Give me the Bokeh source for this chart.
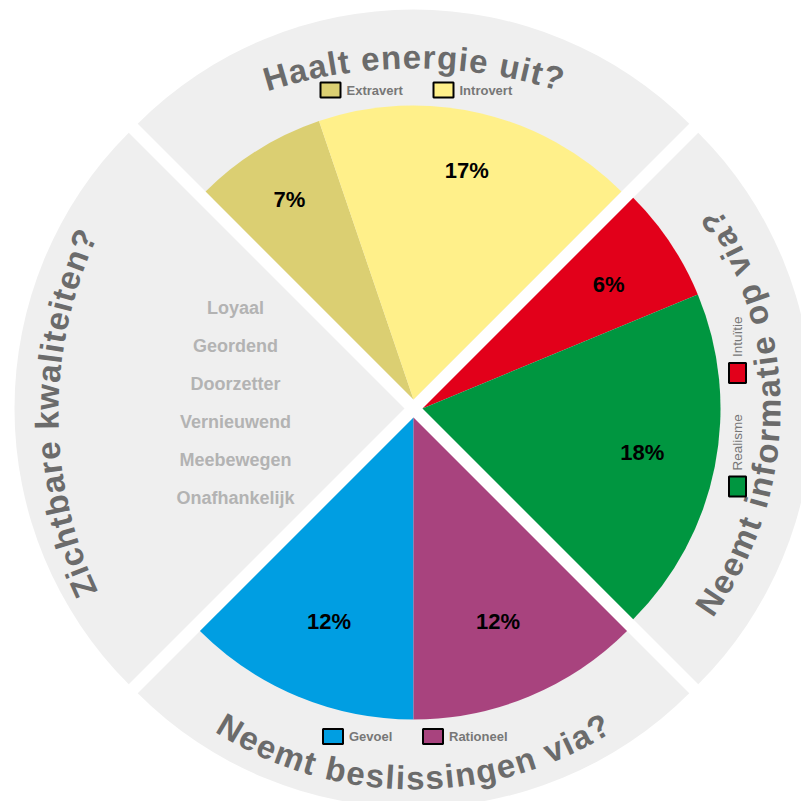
import math
from bokeh.plotting import figure
from bokeh.models import Range1d
from bokeh.embed import file_html
from bokeh.resources import INLINE
from bokeh.core.properties import value

# ---------------- data ----------------
energy_labels = ["Extravert", "Introvert"]
energy_values = [7, 17]
info_labels = ["Intuïtie", "Realisme"]
info_values = [6, 18]
decision_labels = ["Gevoel", "Rationeel"]
decision_values = [12, 12]
quality_labels = ["Loyaal", "Geordend", "Doorzetter", "Vernieuwend", "Meebewegen", "Onafhankelijk"]
question_top = "Haalt energie uit?"
question_right = "Neemt informatie op via?"
question_bottom = "Neemt beslissingen via?"
question_left = "Zichtbare kwaliteiten?"

energy_colors = ["#dbcf72", "#fff08a"]
info_colors = ["#e2001a", "#009640"]
decision_colors = ["#009ee2", "#a8437e"]

# ---------------- layout ----------------
H = 809
def sy(y):  # screen y -> data y
    return H - y

CX, CY = 413, sy(408)
D = 9
R_OUT = 390
GRAY = "#efefef"
TITLE_COLOR = "#6b6b6b"
FONT = value("Liberation Sans")

p = figure(width=801, height=801, x_range=Range1d(0, 801), y_range=Range1d(8, 809),
           output_backend="svg", toolbar_location=None, min_border=0,
           x_axis_location=None, y_axis_location=None)
p.grid.visible = False
p.outline_line_color = None
p.background_fill_color = "white"
p.border_fill_color = "white"

def apex(bis):
    b = math.radians(bis)
    return CX + D * math.cos(b), CY + D * math.sin(b)

# gray quadrants
for bis in (90, 0, -90, 180):
    ax, ay = apex(bis)
    p.wedge(x=ax, y=ay, radius=R_OUT, start_angle=math.radians(bis - 45),
            end_angle=math.radians(bis + 45), fill_color=GRAY, line_color=None)

def draw_group(values, colors, start_deg, sign, bis, radius, label_r):
    ax, ay = apex(bis)
    total = float(sum(values))
    a = start_deg
    lx, ly, lt = [], [], []
    for v, c in zip(values, colors):
        b = a + sign * v / total * 90.0
        s, e = (b, a) if sign < 0 else (a, b)
        p.wedge(x=ax, y=ay, radius=radius, start_angle=math.radians(s),
                end_angle=math.radians(e), fill_color=c, line_color=None)
        m = math.radians((a + b) / 2)
        lx.append(ax + label_r * math.cos(m))
        ly.append(ay + label_r * math.sin(m))
        lt.append(f"{v}%")
        a = b
    p.text(x=lx, y=ly, text=lt, text_align="center", text_baseline="middle",
           text_font=FONT, text_font_style="bold", text_font_size="22px", text_color="black")

draw_group(energy_values, energy_colors, 135, -1, 90, 294, 235)
draw_group(info_values, info_colors, 45, -1, 0, 298, 224)
draw_group(decision_values, decision_colors, -135, 1, -90, 302, 221)

# ---------------- curved titles ----------------
AW = {' ': 278, '?': 611, 'a': 556, 'b': 611, 'c': 556, 'd': 611, 'e': 556, 'f': 333,
      'g': 611, 'h': 611, 'i': 278, 'j': 278, 'k': 556, 'l': 278, 'm': 889, 'n': 611,
      'o': 611, 'p': 611, 'q': 611, 'r': 389, 's': 556, 't': 333, 'u': 611, 'v': 556,
      'w': 778, 'x': 556, 'y': 556, 'z': 500, 'H': 722, 'N': 722, 'Z': 611}

def curved(text, ox, oy, r, center_deg, tops_out, size, spacing):
    """Characters along an arc around (ox, oy); r is the baseline radius."""
    widths = [AW.get(ch, 556) * size / 1000.0 for ch in text]
    total = sum(widths) + spacing * (len(text) - 1)
    s = -total / 2.0
    mid_off = 0.35 * size
    ra = r + mid_off if tops_out else r - mid_off
    xs, ys, angs, chars = [], [], [], []
    c = math.radians(center_deg)
    for ch, w in zip(text, widths):
        mid = s + w / 2.0
        if tops_out:
            th = c - mid / r
            rot = th - math.pi / 2
        else:
            th = c + mid / r
            rot = th + math.pi / 2
        if ch != ' ':
            xs.append(ox + ra * math.cos(th))
            ys.append(oy + ra * math.sin(th))
            angs.append(rot)
            chars.append(ch)
        s += w + spacing
    p.text(x=xs, y=ys, text=chars, angle=angs, text_align="center",
           text_baseline="middle", text_font=FONT, text_font_style="bold",
           text_font_size=f"{size}px", text_color=TITLE_COLOR)

# top: flatter arc, baseline through y=68 at the middle
curved(question_top, 413, sy(68 + 480), 480, 90, True, 33, 1.2)
# left: baseline through x=58 at the middle
curved(question_left, 58 + 420, sy(413), 420, 180, True, 33, 1.0)
# right & bottom follow their quadrants
ax_r, ay_r = apex(0)
curved(question_right, ax_r, ay_r, 358, -0.8, False, 33, 1.9)
ax_b, ay_b = apex(-90)
curved(question_bottom, ax_b, ay_b, 372, -90, False, 33, 1.6)

# ---------------- legends ----------------
LEG_TEXT = "#777777"
# top
tx = [330 + i * 113 for i in range(len(energy_labels))]
p.rect(x=tx, y=[sy(89.5)] * 2, width=20, height=15, fill_color=energy_colors,
       line_color="black", line_width=2)
p.text(x=[v + 16 for v in tx], y=[sy(89.5)] * 2, text=energy_labels, text_align="left",
       text_baseline="middle", text_font=FONT, text_font_style="bold",
       text_font_size="13px", text_color=LEG_TEXT)
# bottom
bx = [332.5 + i * 100 for i in range(len(decision_labels))]
p.rect(x=bx, y=[sy(736)] * 2, width=20, height=15, fill_color=decision_colors,
       line_color="black", line_width=2)
p.text(x=[v + 16 for v in bx], y=[sy(736)] * 2, text=decision_labels, text_align="left",
       text_baseline="middle", text_font=FONT, text_font_style="bold",
       text_font_size="13px", text_color=LEG_TEXT)
# right (vertical)
ry = [372.5 + i * 113.5 for i in range(len(info_labels))]
p.rect(x=[737] * 2, y=[sy(v) for v in ry], width=17, height=20, fill_color=info_colors,
       line_color="black", line_width=2)
p.text(x=[737] * 2, y=[sy(v - 16) for v in ry], text=info_labels, angle=math.pi / 2,
       text_align="left", text_baseline="middle", text_font=FONT,
       text_font_size="13.5px", text_color=LEG_TEXT)

# ---------------- qualities list ----------------
p.text(x=[235] * len(quality_labels), y=[sy(307 + i * 38) for i in range(len(quality_labels))],
       text=quality_labels, text_align="center", text_baseline="middle", text_font=FONT,
       text_font_style="bold", text_font_size="18px", text_color="#b3b3b3")

open("out.html", "w").write(file_html(p, INLINE))
